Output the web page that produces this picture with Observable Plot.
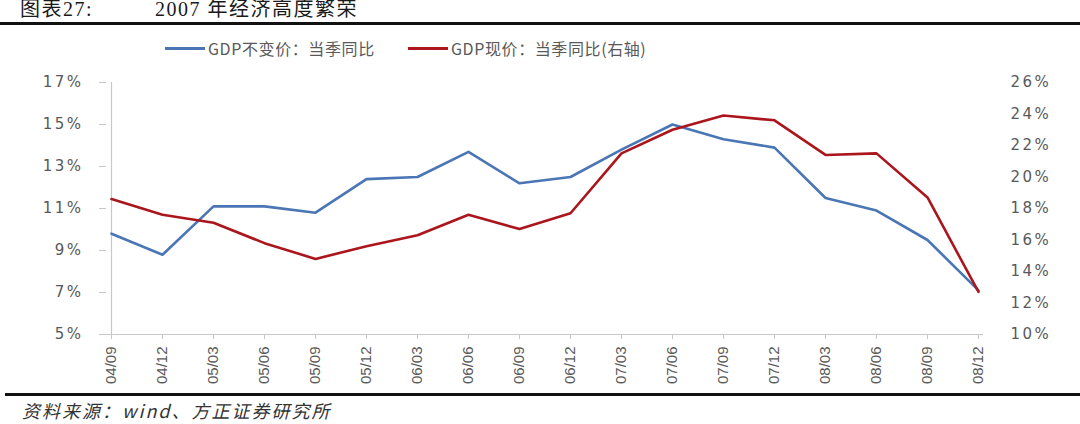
<!DOCTYPE html>
<html>
<head>
<meta charset="utf-8">
<script src="https://cdn.jsdelivr.net/npm/d3@7"></script>
<script src="https://cdn.jsdelivr.net/npm/@observablehq/plot@0.6"></script>
<style>
  html, body { margin: 0; padding: 0; background: #fff; }
  body { width: 1080px; height: 424px; overflow: hidden; position: relative; }
  #title {
    position: absolute; left: 0; top: 0; width: 1080px; height: 22px;
    border-bottom: 3px solid #111;
    font-family: "Liberation Serif", "Noto Sans CJK SC", serif;
    font-size: 20px; color: #1a1a1a; white-space: pre; letter-spacing: 1.5px;
  }
  #title .a { position: absolute; left: 20px; top: -3px; line-height: 24px; }
  #title .b { position: absolute; left: 155px; top: -3px; line-height: 24px; }
  #legend {
    position: absolute; top: 37px; left: 0; width: 1080px; height: 22px;
    font-family: "Noto Sans CJK SC", "Liberation Sans", sans-serif;
    font-size: 16px; color: #595959; letter-spacing: 0.6px;
  }
  .item { position: absolute; top: 0; display: flex; align-items: center; height: 22px; white-space: pre; }
  .swatch { width: 40px; height: 3px; margin-right: 3px; }
  #chart { position: absolute; left: 0; top: 60px; }
  #chart g[aria-label="y-axis tick label"] { letter-spacing: 2.5px; }
  #footline { position: absolute; left: 5px; top: 393px; width: 1075px; height: 3px; background: #111; }
  #caption {
    position: absolute; left: 22px; top: 397px; white-space: pre;
    font-family: "Noto Sans CJK SC", "Liberation Serif", serif;
    font-style: italic; font-size: 18px; letter-spacing: 2px; color: #333;
  }
</style>
</head>
<body>
<div id="title"><span class="a">图表27:</span><span class="b">2007 年经济高度繁荣</span></div>
<div id="legend"></div>
<div id="chart"></div>
<div id="footline"></div>
<div id="caption">资料来源：wind、方正证券研究所</div>
<script>
// ---- data ----
const quarters = ["04/09","04/12","05/03","05/06","05/09","05/12","06/03","06/06","06/09","06/12",
                  "07/03","07/06","07/09","07/12","08/03","08/06","08/09","08/12"];
const realGdp = [9.8, 8.8, 11.1, 11.1, 10.8, 12.4, 12.5, 13.7, 12.2, 12.5,
                 13.8, 15.0, 14.3, 13.9, 11.5, 10.9, 9.5, 7.1];
const nominalGdp = [18.6, 17.6, 17.1, 15.8, 14.8, 15.6, 16.3, 17.6, 16.7, 17.7,
                    21.5, 23.0, 23.9, 23.6, 21.4, 21.5, 18.7, 12.7];
const leftTicks = [5, 7, 9, 11, 13, 15, 17];
const rightTicks = [10, 12, 14, 16, 18, 20, 22, 24, 26];
const seriesNames = ["GDP不变价：当季同比", "GDP现价：当季同比(右轴)"];
const colors = ["#4a76b5", "#ab161d"];

// right axis [10,26] mapped onto left axis [5,17]
const toLeft = v => 5 + (v - 10) * (17 - 5) / (26 - 10);
const toRight = v => 10 + (v - 5) * (26 - 10) / (17 - 5);

const rows1 = quarters.map((q, i) => ({q, v: realGdp[i]}));
const rows2 = quarters.map((q, i) => ({q, v: toLeft(nominalGdp[i])}));

// legend
const legend = document.getElementById("legend");
const legendX = [165, 408];
seriesNames.forEach((name, i) => {
  const it = document.createElement("div");
  it.className = "item";
  it.style.left = legendX[i] + "px";
  it.innerHTML = `<div class="swatch" style="background:${colors[i]}"></div><span>${name}</span>`;
  legend.appendChild(it);
});

const chart = Plot.plot({
  width: 1080,
  height: 335,
  marginLeft: 106,
  marginRight: 97,
  marginTop: 22,
  marginBottom: 61,
  style: {fontFamily: "Liberation Sans, Arial, sans-serif", fontSize: "14px", color: "#595959", background: "transparent"},
  x: {type: "point", domain: quarters, padding: 0},
  y: {domain: [5, 17]},
  marks: [
    Plot.ruleY([5], {stroke: "#c8c8c8", strokeWidth: 1.2}),
    Plot.ruleX([quarters[0]], {stroke: "#c8c8c8", strokeWidth: 1.2}),
    Plot.axisY({anchor: "left", ticks: leftTicks, tickFormat: d => d + "%", tickSize: 7, tickPadding: 16,
                stroke: "#c8c8c8", fill: "#595959", label: null, fontSize: 15,
                fontFamily: "DejaVu Sans, sans-serif"}),
    Plot.axisY({anchor: "right", ticks: rightTicks.map(toLeft), tickFormat: d => Math.round(toRight(d)) + "%",
                tickSize: 0, tickPadding: 27, fill: "#595959", label: null, fontSize: 15,
                fontFamily: "DejaVu Sans, sans-serif"}),
    Plot.axisX({anchor: "bottom", tickRotate: -90, tickSize: 5, tickPadding: 7, stroke: "#c8c8c8",
                fill: "#595959", label: null, fontSize: 15}),
    Plot.line(rows1, {x: "q", y: "v", stroke: colors[0], strokeWidth: 2.6}),
    Plot.line(rows2, {x: "q", y: "v", stroke: colors[1], strokeWidth: 2.6})
  ]
});
document.getElementById("chart").appendChild(chart);
</script>
</body>
</html>
